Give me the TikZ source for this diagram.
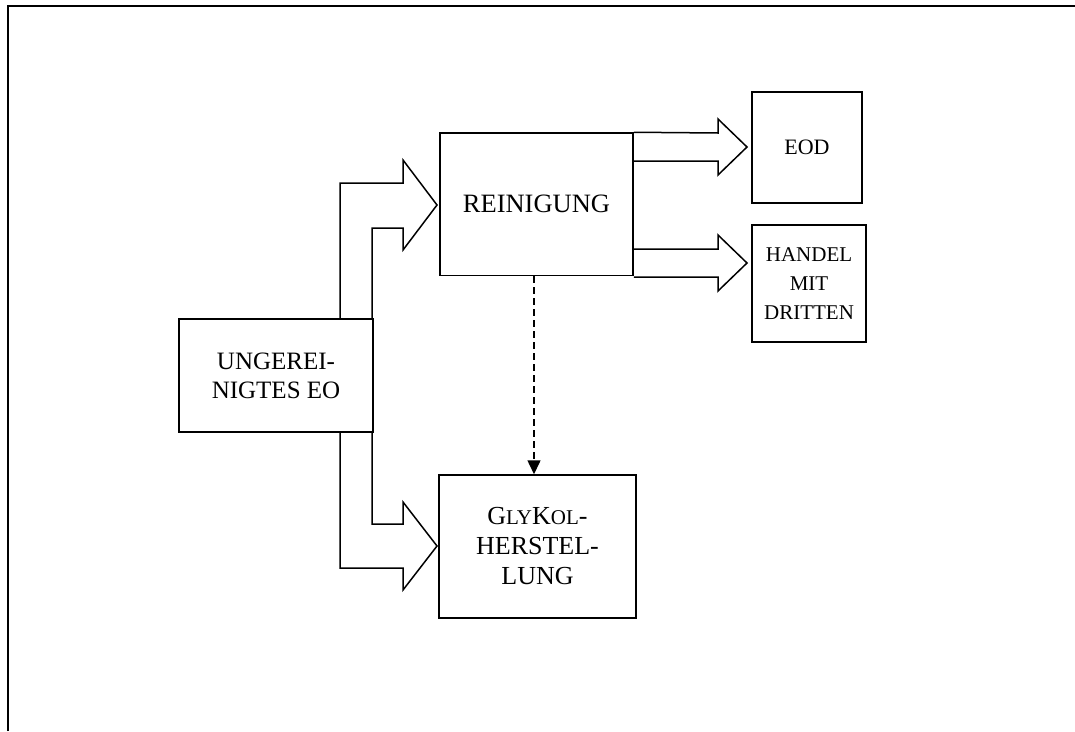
\documentclass[tikz,border=0pt]{standalone}
\usepackage{fontspec}
\setmainfont{Liberation Serif}
\usetikzlibrary{arrows.meta,calc}
\newcommand{\smc}[1]{{\fontsize{21}{30}\selectfont #1}}
\begin{document}
\begin{tikzpicture}[x=1pt,y=-1pt,
  box/.style={draw, line width=1.5pt, inner sep=0pt, align=center,
    font=\fontsize{25}{29}\selectfont},
  blockarrow/.style={draw, line width=1.5pt, line join=miter},
  dashline/.style={draw, line width=1.5pt, dash pattern=on 7pt off 4pt,
    -{Triangle[length=14pt,width=13pt]}},
  frame/.style={draw, line width=2.2pt}]
\useasboundingbox (0,0) rectangle (1075,731);
% frame (top and left only)
\coordinate (ftl) at (8,6);
\coordinate (ftr) at (1075,6);
\coordinate (fbl) at (8,731);
\draw[frame] (fbl) -- (ftl) -- (ftr);
% boxes
\node[box, minimum width=193pt, minimum height=142.5pt, font=\fontsize{26.5}{30}\selectfont] (rein) at (536.5,204.25) {REINIGUNG};
\node[box, minimum width=110pt, minimum height=111pt, font=\fontsize{22}{29}\selectfont] (eod) at (807,147.5) {EOD};
\node[box, minimum width=114pt, minimum height=117pt, font=\fontsize{21}{29}\selectfont] (handel) at (809,283.5) {HANDEL\\MIT\\DRITTEN};
\node[box, minimum width=194pt, minimum height=113pt] (ung) at (276,375.5) {UNGEREI-\\NIGTES EO};
\node[box, minimum width=197pt, minimum height=143pt, font=\fontsize{26}{30}\selectfont] (gly) at (537.5,546.5) {G\smc{LY}K\smc{OL}-\\HERSTEL-\\LUNG};
% block arrow ung -> rein
\draw[blockarrow] (ung.north -| 340,0) -- (340,183) -- (403,183) -- (403,160) -- (437,205)
  -- (403,250) -- (403,228) -- (372,228) -- (ung.north -| 372,0);
% block arrow ung -> gly
\draw[blockarrow] (ung.south -| 340,0) -- (340,568) -- (403,568) -- (403,590) -- (437,546)
  -- (403,502) -- (403,524) -- (372,524) -- (ung.south -| 372,0);
% block arrow rein -> eod
\draw[blockarrow] (rein.north east) -- (718,133) -- (718,119) -- (747,147) -- (718,175)
  -- (718,161) -- (rein.east |- 0,161);
% block arrow rein -> handel
\draw[blockarrow] (rein.east |- 0,249) -- (718,249) -- (718,235) -- (747,263) -- (718,291)
  -- (718,277) -- (rein.east |- 0,277);
% dashed arrow rein -> gly
\draw[dashline] ([xshift=-2.5pt]rein.south) -- ([xshift=-2.5pt]rein.south |- gly.north);
\end{tikzpicture}
\end{document}
